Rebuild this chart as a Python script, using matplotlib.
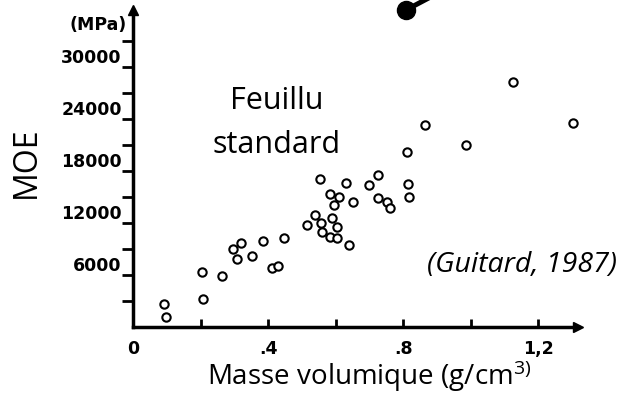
import matplotlib
matplotlib.use("Agg")
import matplotlib.pyplot as plt
from matplotlib.lines import Line2D

# densite (g/cm3) et MOE (MPa)
density = [0.093, 0.097, 0.203, 0.206, 0.262, 0.297, 0.320, 0.307, 0.351, 0.386,
           0.410, 0.430, 0.448, 0.514, 0.538, 0.556, 0.558, 0.553, 0.583, 0.610,
           0.595, 0.630, 0.652, 0.590, 0.603, 0.583, 0.604, 0.639, 0.698, 0.726,
           0.726, 0.751, 0.760, 0.811, 0.814, 0.817, 0.865, 0.987, 1.125, 1.301]
moe = [2620, 1120, 6380, 3200, 5920, 8970, 9730, 7810, 8190, 9920,
       6840, 7040, 10300, 11770, 12920, 11970, 11000, 17040, 15350, 14970,
       14080, 16580, 14460, 12540, 11500, 10420, 10240, 9460, 16390, 17540,
       14850, 14390, 13700, 20190, 16500, 15000, 23270, 21040, 28240, 23570]

x_ticks = [0, 0.2, 0.4, 0.6, 0.8, 1.0, 1.2]
x_labels = ["0", "", ".4", "", ".8", "", "1,2"]
y_ticks = [6000, 12000, 18000, 24000, 30000]
y_minor = [3000, 9000, 15000, 21000, 27000, 33000]

plt.rcParams["mathtext.fontset"] = "custom"
plt.rcParams["mathtext.rm"] = "Open Sans"

fig = plt.figure(figsize=(6.29, 3.96), dpi=100)
ax = fig.add_axes([0.2114, 0.1742, 0.7075, 0.8005])

ax.plot(density, moe, "o", mfc="white", mec="black", ms=6, mew=1.5, ls="none")

ax.set_xlim(0, 1.317)
ax.set_ylim(0, 36580)

for s in ["top", "right"]:
    ax.spines[s].set_visible(False)
for s in ["left", "bottom"]:
    ax.spines[s].set_linewidth(2.5)

# fleches au bout des axes
ax.plot(1, 0, ">k", ms=7, transform=ax.transAxes, clip_on=False)
ax.plot(0, 1, "^k", ms=7, transform=ax.transAxes, clip_on=False)

ax.set_xticks(x_ticks)
ax.set_xticklabels(x_labels, fontweight="bold", fontsize=12.5, family="DejaVu Sans")
ax.tick_params(axis="x", direction="in", length=6, width=2, pad=9)

ax.set_yticks(y_ticks)
ax.set_yticks(y_minor, minor=True)
ax.set_yticklabels([str(v) for v in y_ticks], fontweight="bold", fontsize=12.5,
                   family="DejaVu Sans")
ax.tick_params(axis="y", which="both", direction="out", length=8, width=2, pad=0)
for lab in ax.get_yticklabels():
    lab.set_va("bottom")

ax.text(-0.015, 0.953, "(MPa)", transform=ax.transAxes, ha="right", va="center",
        fontweight="bold", fontsize=12.5, family="DejaVu Sans")

ax.text(0.426, 23540, "Feuillu\nstandard", ha="center", va="center",
        fontsize=22, family="Open Sans", linespacing=1.6)

fig.text(617 / 629, 1 - 265 / 396, "(Guitard, 1987)", ha="right", va="center",
         fontsize=20.5, style="italic", family="Open Sans")
fig.text(26 / 629, 1 - 162 / 396, "MOE", rotation=90, ha="center", va="center",
         fontsize=23, family="Open Sans")
fig.text(369 / 629, 1 - 385 / 396, r"Masse volumique (g/cm$\mathregular{^{3)}}$",
         ha="center", va="baseline", fontsize=20, family="Open Sans")

# bout de fleche coupe en haut de l'image
fig.add_artist(Line2D([406 / 629, 440 / 629], [1 - 10 / 396, 1 + 8 / 396],
                      color="black", lw=3.6, marker="o", markevery=[0], ms=13))

fig.savefig("out.png", dpi=100)
